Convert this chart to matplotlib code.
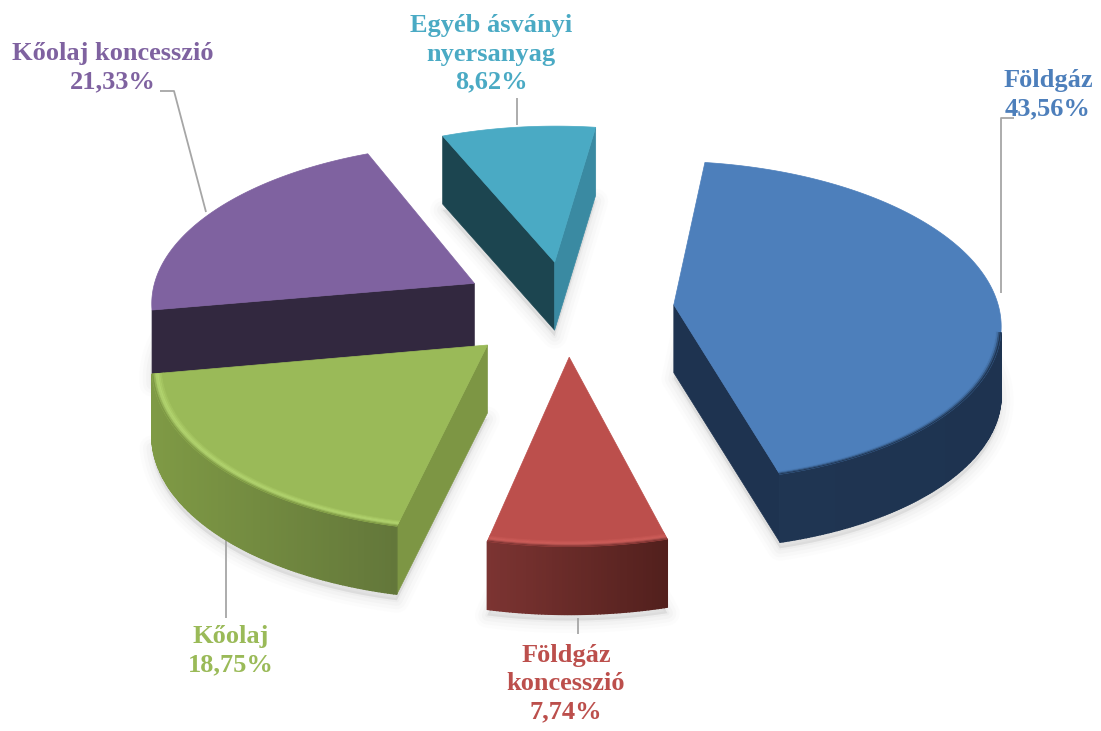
"""Exploded 3D-look pie chart, drawn by projecting each wedge by hand."""

import matplotlib

matplotlib.use("Agg")
import matplotlib.pyplot as plt
import numpy as np
from matplotlib.colors import to_rgb
from matplotlib.patches import Polygon

# data, clockwise from the start angle
labels = ["Földgáz", "Földgáz\nkoncesszió", "Kőolaj", "Kőolaj koncesszió", "Egyéb ásványi\nnyersanyag"]
values = [43.56, 7.74, 18.75, 21.33, 8.62]

# style per slice
top_colors = ["#4d7fbb", "#bc4f4c", "#9aba58", "#7f62a0", "#4aaac4"]
rim_left = ["#1f3552", "#7c3432", "#7f9a45", "#35293f", "#1d4650"]
rim_right = ["#1e3350", "#52201d", "#63773a", "#32283f", "#1d4650"]
bevel_colors = ["#4d7fbb", "#d0605c", "#b6d872", "#8f72b0", "#4aaac4"]
start_faces = [None, None, "#7d9644", "#32283f", "#1c4550"]
end_faces = ["#1e3350", None, None, None, "#3a8aa2"]
explode = [0.33, 0.30, 0.33, 0.33, 0.30]
label_pos = [(1048, 95), (566, 684), (231, 651), (113, 68), (491, 54)]

# projection settings (pixels)
CX, CY = 567, 308
R = 325
FLAT = 0.489
PERSP = 0.103
DEPTH = 68
START = 8.0

plt.rcParams["font.family"] = ["Liberation Serif", "DejaVu Serif"]


def project(x, y, z=0.0):
    s = 1.0 / (1.0 + PERSP * y)
    return CX + R * x * s, CY - R * FLAT * y * s + DEPTH * z


def disc_point(mid, ex, ang, r=1.0, z=0.0):
    # angles in degrees, clockwise from north; z=1 is the bottom face
    m, a = np.radians(mid), np.radians(ang)
    x = ex * np.sin(m) + r * np.sin(a)
    y = ex * np.cos(m) + r * np.cos(a)
    return np.column_stack(project(x, y, z)) if np.ndim(ang) else np.array(project(x, y, z))


def mix(c1, c2, t):
    return tuple((1 - t) * np.array(to_rgb(c1)) + t * np.array(to_rgb(c2)))


fig = plt.figure(figsize=(11.01, 7.31), dpi=100)
ax = fig.add_axes([0, 0, 1, 1])
ax.set_xlim(0, 1101)
ax.set_ylim(731, 0)
ax.axis("off")

spans = np.array(values) / sum(values) * 360
starts = START + np.concatenate([[0], np.cumsum(spans)[:-1]])

# soft shadow under every slice
for a0, sp, ex in zip(starts, spans, explode):
    mid = a0 + sp / 2
    arc = np.linspace(a0, a0 + sp, 80)
    apex = disc_point(mid, ex, a0, 0.0, 1.0)
    sil = np.vstack([apex, disc_point(mid, ex, arc, 1.0, 1.0)]) + [0, 6]
    for lw, alpha in [(18, 0.02), (13, 0.03), (8, 0.04), (3, 0.05)]:
        ax.add_patch(Polygon(sil, closed=True, fc="#808080", ec="#808080", lw=lw, alpha=alpha, joinstyle="round"))

# leader lines sit under the slices
leaders = [
    ([1014, 1001, 1001], [118, 118, 293]),
    ([578, 578], [618, 634]),
    ([226, 226], [536, 618]),
    ([160, 174, 206], [91, 91, 212]),
    ([517, 517], [98, 125]),
]
for lx, ly in leaders:
    ax.plot(lx, ly, color="#a6a6a6", lw=1.3, zorder=1, solid_capstyle="butt")

# back to front
for i in [4, 3, 0, 2, 1]:
    a0, sp, ex = starts[i], spans[i], explode[i]
    a1 = a0 + sp
    mid = a0 + sp / 2
    z = 2
    apex_top = disc_point(mid, ex, a0, 0.0)
    apex_bot = disc_point(mid, ex, a0, 0.0, 1.0)

    # flat cut faces
    for ang, col in [(a0, start_faces[i]), (a1, end_faces[i])]:
        if col is None:
            continue
        pts = [apex_top, disc_point(mid, ex, ang), disc_point(mid, ex, ang, 1.0, 1.0), apex_bot]
        ax.add_patch(Polygon(pts, closed=True, fc=col, ec=col, lw=0.5, zorder=z))

    # outer rim in small strips so the shade can run across it
    arc = np.linspace(a0, a1, int(sp * 2) + 2)
    facing = np.cos(np.radians(arc)) < -0.165
    xs = disc_point(mid, ex, arc)[:, 0]
    x0, x1 = xs[facing].min() if facing.any() else 0, xs[facing].max() if facing.any() else 1
    for k in range(len(arc) - 1):
        if not (facing[k] and facing[k + 1]):
            continue
        pair = arc[k : k + 2]
        t = (xs[k] - x0) / max(x1 - x0, 1)
        col = mix(rim_left[i], rim_right[i], t)
        pts = np.vstack([disc_point(mid, ex, pair), disc_point(mid, ex, pair[::-1], 1.0, 1.0)])
        ax.add_patch(Polygon(pts, closed=True, fc=col, ec=col, lw=1.0, zorder=z))

    # top face
    top = np.vstack([apex_top, disc_point(mid, ex, arc)])
    ax.add_patch(Polygon(top, closed=True, fc=top_colors[i], ec=top_colors[i], lw=0.5, zorder=z))

    # bevel between rim and top on the part that faces the viewer
    steps = np.linspace(1.0, 0.965, 8)
    for k in range(len(steps) - 1):
        t = k / (len(steps) - 2)
        if t < 0.4:
            col = mix(rim_left[i], bevel_colors[i], t / 0.4)
        else:
            col = mix(bevel_colors[i], top_colors[i], (t - 0.4) / 0.6)
        front = arc[facing]
        if len(front) < 2:
            continue
        pts = np.vstack([disc_point(mid, ex, front, steps[k]), disc_point(mid, ex, front[::-1], steps[k + 1])])
        ax.add_patch(Polygon(pts, closed=True, fc=col, ec=col, lw=0.3, zorder=z))

# data labels
for name, val, col, (tx, ty) in zip(labels, values, top_colors, label_pos):
    txt = f"{name}\n{val:.2f}%".replace(".", ",")
    ax.text(tx, ty, txt, color=col, fontsize=19, fontweight="bold", ha="center", va="center",
            linespacing=1.28, zorder=5)

fig.savefig("out.png", dpi=100)
